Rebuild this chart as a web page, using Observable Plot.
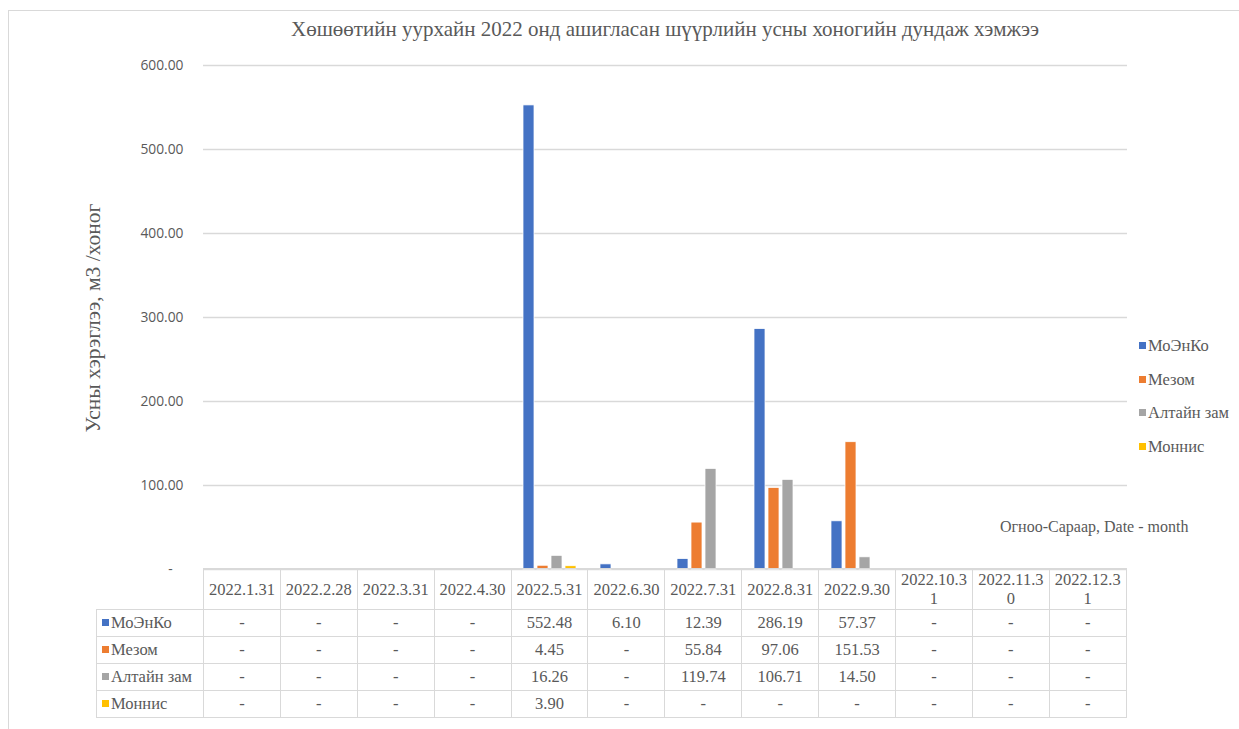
<!DOCTYPE html>
<html>
<head>
<meta charset="utf-8">
<script src="https://cdn.jsdelivr.net/npm/d3@7"></script>
<script src="https://cdn.jsdelivr.net/npm/@observablehq/plot@0.6"></script>
<style>
  html, body { margin: 0; padding: 0; background: #fff; }
  #wrap { position: relative; width: 1239px; height: 729px; overflow: hidden; font-family: "Liberation Serif", serif; color: #595959; }
  #frame { position: absolute; left: 8px; top: 10px; width: 1240px; height: 730px; border: 1px solid #d9d9d9; box-sizing: border-box; }
  #title { position: absolute; left: 0; width: 1330px; top: 17px; text-align: center; font-size: 21px; white-space: nowrap; }
  #ylabel { position: absolute; left: 93px; top: 318px; transform: translate(-50%, -50%) rotate(-90deg); font-size: 21.5px; white-space: nowrap; }
  #plot { position: absolute; left: 0; top: 0; }
  #legend { position: absolute; left: 1139px; top: 336px; font-size: 16.5px; }
  #legend div { height: 33.5px; white-space: nowrap; }
  .sw { display: inline-block; width: 7px; height: 7px; margin-right: 2px; vertical-align: 2px; }
  #xlabel { position: absolute; left: 1000px; top: 518px; font-size: 16px; white-space: nowrap; }
  table { position: absolute; left: 96px; top: 568px; border-collapse: collapse; table-layout: fixed; font-size: 16.5px; color: #595959; }
  td { border: 1.5px solid #d9d9d9; text-align: center; padding: 0 3px; overflow: hidden; }
  tr.head td { height: 40px; line-height: 19px; word-break: break-all; }
  tr.row td { height: 26px; line-height: 18px; }
  td.lab { text-align: left; padding-left: 5px; padding-right: 0; white-space: nowrap; }
  td.blank { border: none; }
</style>
</head>
<body>
<div id="wrap">
  <div id="frame"></div>
  <div id="title"></div>
  <div id="ylabel"></div>
  <div id="plot"></div>
  <div id="legend"></div>
  <div id="xlabel"></div>
  <table id="tbl"></table>
</div>
<script>
const dates = ["2022.1.31","2022.2.28","2022.3.31","2022.4.30","2022.5.31","2022.6.30","2022.7.31","2022.8.31","2022.9.30","2022.10.31","2022.11.30","2022.12.31"];
const series = ["МоЭнКо","Мезом","Алтайн зам","Моннис"];
const colors = ["#4472C4","#ED7D31","#A5A5A5","#FFC000"];
const moenko = [null,null,null,null,552.48,6.10,12.39,286.19,57.37,null,null,null];
const mezom  = [null,null,null,null,4.45,null,55.84,97.06,151.53,null,null,null];
const altai  = [null,null,null,null,16.26,null,119.74,106.71,14.50,null,null,null];
const monnis = [null,null,null,null,3.90,null,null,null,null,null,null,null];
const yTicks = [0,100,200,300,400,500,600];
const titleText = "Хөшөөтийн уурхайн 2022 онд ашигласан шүүрлийн усны хоногийн дундаж хэмжээ";
const yLabelText = "Усны хэрэглээ, м3 /хоног";
const xLabelText = "Огноо-Сараар, Date - month";

const valuesBySeries = [moenko, mezom, altai, monnis];
const data = [];
series.forEach((s, i) => dates.forEach((d, j) => {
  const v = valuesBySeries[i][j];
  if (v != null) data.push({date: d, series: s, value: v});
}));

const fmt = v => v == null ? "-" : v.toFixed(2);

const chart = Plot.plot({
  width: 1239,
  height: 570,
  marginTop: 65,
  marginBottom: 1,
  marginLeft: 203,
  marginRight: 112,
  style: {fontFamily: "'Open Sans', sans-serif", fontSize: "13.8px", color: "#595959", background: "transparent", overflow: "visible"},
  fx: {domain: dates, padding: 0, axis: null},
  x: {domain: series, paddingInner: 0.214, paddingOuter: 0.857, axis: null},
  y: {domain: [0, 600], ticks: yTicks},
  color: {domain: series, range: colors},
  marks: [
    Plot.tickY(dates, {fx: d => d, y: () => 0, strokeOpacity: 0}),
    Plot.gridY(yTicks, {stroke: "#d9d9d9", strokeOpacity: 1, strokeWidth: 1.5}),
    Plot.axisY(yTicks, {tickSize: 0, tickPadding: 20, label: null, fill: "#595959",
      tickFormat: v => v === 0 ? "-\u00a0\u00a0\u00a0" : v.toFixed(2)}),
    Plot.barY(data, {fx: "date", x: "series", y: "value", fill: "series", stroke: "white", strokeWidth: 0.75})
  ]
});
document.getElementById("plot").appendChild(chart);

document.getElementById("title").textContent = titleText;
document.getElementById("ylabel").textContent = yLabelText;
document.getElementById("xlabel").textContent = xLabelText;

const legend = document.getElementById("legend");
series.forEach((s, i) => {
  const div = document.createElement("div");
  div.innerHTML = `<span class="sw" style="background:${colors[i]}"></span>${s}`;
  legend.appendChild(div);
});

// data table
const tbl = document.getElementById("tbl");
const colg = document.createElement("colgroup");
const c0 = document.createElement("col"); c0.style.width = "107px"; colg.appendChild(c0);
dates.forEach(() => { const c = document.createElement("col"); c.style.width = "76.9px"; colg.appendChild(c); });
tbl.appendChild(colg);
const head = document.createElement("tr"); head.className = "head";
const blank = document.createElement("td"); blank.className = "blank"; head.appendChild(blank);
dates.forEach(d => {
  const td = document.createElement("td");
  td.textContent = d;
  head.appendChild(td);
});
tbl.appendChild(head);
series.forEach((s, i) => {
  const tr = document.createElement("tr"); tr.className = "row";
  const lab = document.createElement("td"); lab.className = "lab";
  lab.innerHTML = `<span class="sw" style="background:${colors[i]}"></span>${s}`;
  tr.appendChild(lab);
  valuesBySeries[i].forEach(v => {
    const td = document.createElement("td");
    td.textContent = fmt(v);
    tr.appendChild(td);
  });
  tbl.appendChild(tr);
});
</script>
</body>
</html>
